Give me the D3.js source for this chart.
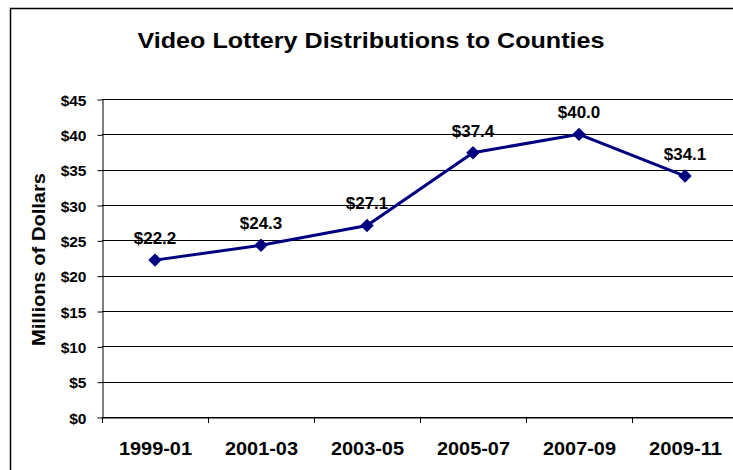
<!DOCTYPE html>
<html>
<head>
<meta charset="utf-8">
<script src="https://cdn.jsdelivr.net/npm/d3@7.9.0/dist/d3.min.js"></script>
<style>
  body { margin: 0; background: #fff; }
  svg { display: block; font-family: "Liberation Sans", Arial, sans-serif; }
</style>
</head>
<body>
<svg id="chart" width="733" height="470"></svg>
<script>
// chart data
const periods = ['1999-01', '2001-03', '2003-05', '2005-07', '2007-09', '2009-11'];
const distributions = [22.2, 24.3, 27.1, 37.4, 40.0, 34.1];
const yTicks = [0, 5, 10, 15, 20, 25, 30, 35, 40, 45];

const svg = d3.select('#chart');

// outer chart border (runs off the right/bottom edge in the original)
svg.append('rect')
  .attr('x', 10.5).attr('y', 8.5)
  .attr('width', 760).attr('height', 500)
  .attr('fill', 'none')
  .attr('stroke', '#000')
  .attr('stroke-width', 1.5);

const plotL = 102, plotR = 738, plotT = 99, plotB = 417;

let x = d3.scaleBand().domain(periods).range([plotL, plotR]);
let y = d3.scaleLinear().domain([0, 45]).range([plotB, plotT]);

// gridlines
svg.append('g')
  .selectAll('line')
  .data(yTicks)
  .join('line')
  .attr('x1', plotL).attr('x2', plotR)
  .attr('y1', (d) => Math.round(y(d)) + 0.5)
  .attr('y2', (d) => Math.round(y(d)) + 0.5)
  .attr('stroke', '#000')
  .attr('stroke-width', 1);

// y axis
const yAxis = svg.append('g')
  .attr('transform', `translate(${plotL + 0.5},0.5)`)
  .call(d3.axisLeft(y).tickValues(yTicks).tickSize(5).tickSizeOuter(0)
    .tickFormat((d) => '$' + d));
yAxis.select('.domain').attr('stroke', '#000');
yAxis.selectAll('text')
  .attr('font-size', 15.5).attr('font-weight', 'bold').attr('fill', '#000')
  .attr('x', -16).attr('dy', '0.36em');

// x axis
const xAxis = svg.append('g')
  .attr('transform', `translate(0.5,${plotB + 0.5})`)
  .call(d3.axisBottom(x).tickSize(0).tickSizeOuter(0));
xAxis.select('.domain').attr('stroke', '#000');
xAxis.selectAll('text')
  .attr('font-size', 18.5).attr('font-weight', 'bold').attr('fill', '#000')
  .attr('y', 37).attr('dy', 0)
  .attr('textLength', 73).attr('lengthAdjust', 'spacingAndGlyphs');
// category boundary ticks
svg.append('g')
  .selectAll('line')
  .data(periods.concat(['end']))
  .join('line')
  .attr('x1', (d, i) => Math.round(plotL + i * x.step()) + 0.5)
  .attr('x2', (d, i) => Math.round(plotL + i * x.step()) + 0.5)
  .attr('y1', plotB).attr('y2', plotB + 6)
  .attr('stroke', '#000');

// line series
const cx = (d, i) => x(periods[i]) + x.bandwidth() / 2;
const line = d3.line().x(cx).y((d) => y(d));
svg.append('path')
  .datum(distributions)
  .attr('d', line)
  .attr('fill', 'none')
  .attr('stroke', '#000080')
  .attr('stroke-width', 3);

svg.append('g')
  .selectAll('path')
  .data(distributions)
  .join('path')
  .attr('d', d3.symbol(d3.symbolSquare, 90)())
  .attr('transform', (d, i) => `translate(${cx(d, i)},${y(d)}) rotate(45)`)
  .attr('fill', '#000080');

// data labels
svg.append('g')
  .selectAll('text')
  .data(distributions)
  .join('text')
  .attr('x', cx)
  .attr('y', (d) => y(d) - 16)
  .attr('text-anchor', 'middle')
  .attr('font-size', 17)
  .attr('font-weight', 'bold')
  .text((d) => '$' + d.toFixed(1));

// title
svg.append('text')
  .attr('x', 371).attr('y', 48)
  .attr('text-anchor', 'middle')
  .attr('font-size', 22.5)
  .attr('font-weight', 'bold')
  .attr('textLength', 467)
  .attr('lengthAdjust', 'spacingAndGlyphs')
  .text('Video Lottery Distributions to Counties');

// y axis title
svg.append('text')
  .attr('transform', 'translate(45,259.5) rotate(-90)')
  .attr('text-anchor', 'middle')
  .attr('font-size', 18)
  .attr('font-weight', 'bold')
  .attr('textLength', 173)
  .attr('lengthAdjust', 'spacingAndGlyphs')
  .text('Millions of Dollars');
</script>
</body>
</html>
